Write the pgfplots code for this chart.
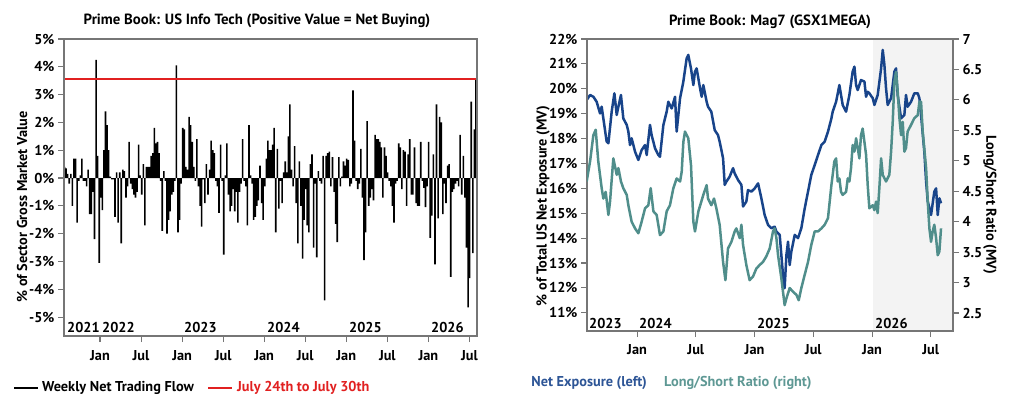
\documentclass[border=0pt]{standalone}
\usepackage{pgfplots}
\pgfplotsset{compat=1.18}
\usepackage{pgfplotstable}
\usepackage{fontspec}
\setmainfont{PT Sans}
\definecolor{expblue}{RGB}{24,68,138}
\definecolor{ratioteal}{RGB}{80,142,139}
\definecolor{legblue}{RGB}{45,85,150}
\definecolor{legteal}{RGB}{94,152,148}
\definecolor{framegray}{RGB}{118,118,118}
\definecolor{flowred}{RGB}{225,32,32}
\definecolor{bandgray}{RGB}{243,243,243}
\newcommand{\lbl}{\bfseries\fontsize{14.3}{16}\selectfont}
\newcommand{\ttl}{\bfseries\fontsize{14.8}{16}\selectfont}

\pgfplotsset{myaxis/.style={scale only axis,
  axis line style={framegray, line width=1.1pt},
  tick style={framegray, line width=1.1pt},
  major tick length=6pt, tick align=outside,
  tick label style={font=\lbl},
  /pgf/number format/assume math mode=true}}

% weekly net flow, % of sector gross MV (first week ~ late Jul 2021)
\pgfplotstableread[header=false,row sep=\\]{
0.4\\0.35\\0.15\\-0.2\\0.15\\-1.0\\0.7\\0.7\\-1.6\\-0.1\\
0.1\\0.7\\-0.1\\-0.1\\-0.3\\0.3\\-1.3\\-1.3\\-0.5\\-2.2\\
4.25\\0.8\\-3.05\\-0.7\\-1.15\\1.0\\2.4\\1.9\\1.0\\0.05\\
-0.05\\-0.05\\-1.4\\0.2\\-1.6\\0.2\\-2.35\\0.3\\0.25\\-0.7\\
-0.3\\1.3\\-0.2\\-0.4\\-0.6\\-0.7\\-0.5\\1.2\\0.1\\-0.6\\
0.5\\-1.7\\0.4\\0.4\\0.4\\0.8\\0.9\\1.8\\1.25\\1.3\\
0.9\\-0.1\\-1.9\\0.25\\-0.1\\-2.0\\-1.5\\-1.2\\-0.6\\-0.5\\
-0.1\\4.05\\-1.95\\-1.5\\-0.2\\1.8\\1.75\\0.4\\0.3\\2.2\\
1.9\\1.3\\0.4\\-0.1\\1.4\\-0.3\\-1.0\\-1.75\\-0.05\\-0.9\\
0.5\\-0.6\\0.3\\1.35\\1.0\\0.9\\-0.1\\-0.3\\-1.25\\1.2\\
-0.1\\-2.75\\0.1\\1.25\\-0.6\\-1.2\\-1.0\\-0.4\\-1.2\\-0.5\\
-1.6\\-0.5\\-0.2\\1.4\\-0.1\\-0.3\\-1.7\\1.9\\0.1\\-0.2\\
-1.5\\-1.4\\-1.0\\-0.8\\0.45\\-0.9\\-1.5\\-0.3\\0.7\\1.35\\
1.0\\1.0\\1.2\\1.8\\-1.95\\1.05\\-1.1\\-0.1\\-0.9\\0.2\\
0.6\\0.2\\1.5\\2.65\\0.3\\-0.3\\1.15\\-0.9\\-2.35\\0.6\\
-1.0\\-2.9\\-1.5\\-0.4\\-1.7\\-1.95\\0.5\\0.85\\-2.5\\-0.2\\
-2.85\\0.25\\-0.1\\-0.2\\0.8\\-4.4\\0.8\\0.9\\0.95\\-0.3\\
0.75\\-0.5\\-1.65\\-2.3\\0.75\\-0.3\\0.05\\0.6\\0.45\\0.7\\
0.65\\-0.3\\-0.2\\3.15\\1.35\\-0.1\\-0.4\\-0.2\\1.05\\-0.7\\
-2.95\\-1.95\\2.05\\-1.0\\-0.7\\-0.4\\-0.8\\1.55\\1.4\\1.4\\
1.3\\1.1\\-0.7\\1.1\\0.8\\0.2\\-0.1\\-0.3\\-1.0\\-1.6\\
-0.2\\-0.1\\1.25\\1.1\\-0.4\\1.0\\0.95\\-1.0\\0.85\\1.4\\
-0.6\\-0.6\\1.1\\-0.9\\-1.0\\-1.0\\1.3\\-0.1\\-0.35\\-1.05\\
-0.3\\1.3\\-2.15\\-1.35\\0.85\\-3.1\\2.65\\-1.45\\2.2\\2.0\\
-1.3\\-0.2\\-0.9\\0.45\\0.5\\-3.55\\-0.5\\-0.4\\-0.2\\-0.1\\
-0.3\\1.55\\-0.6\\0.8\\-0.7\\-2.5\\-4.65\\-3.6\\2.75\\-2.7\\
1.75\\3.55\\
}\flowdata

\begin{document}
\begin{tikzpicture}[x=1pt,y=1pt]
\path[use as bounding box] (0,0) rectangle (1024,402);

% ---------------- Left chart (x = years since 2020) ----------------
\begin{axis}[myaxis, at={(64pt,66pt)}, anchor=south west,
  width=413pt, height=297pt,
  xmin=1.5615, xmax=6.592, ymin=-5.68, ymax=5,
  tick pos=left,
  ytick={-5,-4,...,5},
  yticklabel={\pgfmathprintnumber{\tick}\%},
  xtick={2,2.5,3,3.5,4,4.5,5,5.5,6,6.5},
  xticklabels={Jan,Jul,Jan,Jul,Jan,Jul,Jan,Jul,Jan,Jul},
  xticklabel style={yshift=-5pt},
  axis on top]
\addplot[ybar, bar width=0.0194, bar shift=0pt, fill=black, draw=none]
  table[x expr=1.568+\coordindex*0.0192, y index=0]{\flowdata};
\addplot[flowred, line width=1.8pt] coordinates {(1.5615,3.55) (6.592,3.55)};
\end{axis}
\node[anchor=base west, inner sep=0, font=\lbl] at (67,70) {2021};
\node[anchor=base west, inner sep=0, font=\lbl] at (102,70) {2022};
\node[anchor=base west, inner sep=0, font=\lbl] at (184,70) {2023};
\node[anchor=base west, inner sep=0, font=\lbl] at (267,70) {2024};
\node[anchor=base west, inner sep=0, font=\lbl] at (349,70) {2025};
\node[anchor=base west, inner sep=0, font=\lbl] at (431,70) {2026};
\node[font=\ttl] at (257,381) {Prime Book: US Info Tech (Positive Value = Net Buying)};
\node[rotate=90, font=\lbl] at (22,195) {\% of Sector Gross Market Value};
\draw[black, line width=2.5pt] (14,14) -- (38,14);
\node[anchor=west, inner sep=0, font=\lbl] at (42,14) {Weekly Net Trading Flow};
\draw[flowred, line width=2.5pt] (208,14) -- (232,14);
\node[anchor=west, inner sep=0, font=\lbl, text=flowred] at (237,14) {July 24th to July 30th};

% ---------------- Right chart (x = years since 2020) ----------------
\fill[bandgray] (873,71) rectangle (953,363);
\begin{axis}[myaxis, at={(587pt,71pt)}, anchor=south west,
  width=366pt, height=292pt,
  xmin=3.574, xmax=6.689, ymin=10.27, ymax=22,
  tick pos=left,
  ytick={11,12,...,22},
  yticklabel={\pgfmathprintnumber{\tick}\%},
  xtick={4,4.5,5,5.5,6,6.5},
  xticklabels={Jan,Jul,Jan,Jul,Jan,Jul},
  xticklabel style={yshift=-4pt},
  axis on top]
\addplot[expblue, line width=2.5pt, line join=round] coordinates {
(3.571,19.55) (3.600,19.75) (3.628,19.68) (3.656,19.48) (3.685,19.01) (3.699,19.28) (3.713,18.81) (3.741,17.88) (3.756,17.81) (3.784,19.08) (3.807,19.82) (3.827,18.95) (3.841,19.28) (3.863,19.75) (3.883,18.81) (3.912,18.55) (3.926,18.28) (3.940,17.74) (3.954,18.01) (3.983,17.47) (4.011,17.14) (4.039,17.54) (4.068,17.74) (4.082,17.34) (4.110,18.55) (4.124,18.14) (4.153,17.61) (4.181,17.34) (4.195,17.27) (4.224,18.55) (4.252,19.08) (4.266,19.48) (4.295,19.21) (4.323,19.68) (4.337,18.28) (4.366,19.62) (4.394,20.29) (4.422,21.22) (4.436,21.36) (4.459,20.82) (4.479,20.15) (4.493,20.69) (4.507,20.82) (4.536,20.02) (4.550,19.68) (4.564,20.15) (4.592,19.48) (4.604,19.28) (4.632,19.08) (4.661,18.34) (4.689,18.14) (4.703,17.88) (4.732,17.21) (4.746,16.14) (4.760,16.27) (4.788,16.47) (4.817,16.81) (4.831,16.60) (4.859,16.34) (4.888,16.14) (4.902,15.27) (4.930,15.47) (4.944,15.93) (4.973,15.87) (5.001,16.00) (5.030,16.20) (5.058,15.60) (5.086,14.93) (5.115,14.53) (5.143,14.40) (5.171,14.46) (5.186,14.26) (5.214,14.13) (5.242,12.52) (5.256,11.99) (5.271,13.32) (5.285,13.86) (5.299,12.92) (5.313,13.46) (5.342,14.13) (5.370,14.00) (5.398,14.40) (5.427,15.20) (5.455,15.87) (5.483,16.54) (5.512,16.94) (5.540,17.34) (5.569,17.74) (5.597,17.88) (5.625,18.28) (5.654,18.81) (5.665,19.08) (5.694,19.48) (5.722,20.15) (5.750,19.35) (5.779,19.08) (5.807,19.75) (5.835,20.69) (5.850,20.89) (5.864,20.15) (5.878,19.95) (5.906,20.35) (5.935,20.29) (5.949,19.68) (5.963,19.88) (5.977,19.82) (6.006,19.62) (6.020,19.35) (6.048,19.75) (6.077,20.82) (6.091,21.56) (6.105,20.96) (6.119,20.02) (6.133,19.35) (6.162,19.62) (6.190,20.69) (6.204,20.82) (6.218,19.75) (6.247,18.81) (6.275,18.95) (6.289,19.75) (6.303,19.28) (6.332,19.48) (6.360,19.82) (6.389,19.82) (6.403,19.62) (6.417,18.95) (6.445,17.47) (6.460,16.27) (6.474,15.47) (6.502,14.93) (6.530,15.87) (6.545,16.00) (6.559,14.93) (6.573,15.60) (6.587,15.40)
};
\end{axis}
\begin{axis}[myaxis, at={(587pt,71pt)}, anchor=south west,
  width=366pt, height=292pt,
  xmin=3.574, xmax=6.689, ymin=2.205, ymax=7,
  axis x line=none, axis y line*=right,
  ytick={2.5,3,3.5,4,4.5,5,5.5,6,6.5,7}]
\addplot[ratioteal, line width=2.5pt, line join=round] coordinates {
(3.571,4.66) (3.600,4.99) (3.628,5.42) (3.648,5.51) (3.670,4.99) (3.699,4.55) (3.713,4.38) (3.733,4.49) (3.756,4.11) (3.770,4.33) (3.798,5.04) (3.827,4.77) (3.841,4.88) (3.863,4.66) (3.883,4.55) (3.912,4.44) (3.926,4.27) (3.954,4.00) (3.983,3.89) (4.011,3.81) (4.039,4.00) (4.068,4.22) (4.096,4.27) (4.116,4.55) (4.139,4.17) (4.167,4.11) (4.195,3.78) (4.224,3.84) (4.252,4.17) (4.280,4.27) (4.309,4.55) (4.337,4.71) (4.366,4.66) (4.380,4.82) (4.394,5.31) (4.408,5.48) (4.436,5.37) (4.459,4.93) (4.479,4.00) (4.493,3.84) (4.522,4.17) (4.564,4.44) (4.592,4.60) (4.604,4.38) (4.632,4.27) (4.655,4.38) (4.675,4.22) (4.703,3.95) (4.732,3.34) (4.752,3.04) (4.774,3.56) (4.803,3.67) (4.831,3.84) (4.845,3.89) (4.874,3.73) (4.888,3.95) (4.902,3.62) (4.930,3.29) (4.958,3.04) (4.987,3.10) (5.015,3.23) (5.044,3.29) (5.072,3.34) (5.100,3.43) (5.129,3.56) (5.157,3.84) (5.171,3.89) (5.186,3.73) (5.200,3.45) (5.228,3.07) (5.256,2.63) (5.271,2.74) (5.299,2.91) (5.327,2.85) (5.356,2.80) (5.376,2.71) (5.398,2.91) (5.427,3.13) (5.455,3.34) (5.483,3.62) (5.512,3.84) (5.540,3.84) (5.569,3.89) (5.597,3.95) (5.625,4.06) (5.654,4.60) (5.665,4.77) (5.679,4.99) (5.694,5.04) (5.708,4.66) (5.722,4.71) (5.736,4.49) (5.750,4.44) (5.779,4.49) (5.793,4.71) (5.807,4.66) (5.821,4.88) (5.835,5.26) (5.850,5.15) (5.864,5.37) (5.878,5.21) (5.892,5.04) (5.906,5.42) (5.920,5.53) (5.935,5.31) (5.949,5.10) (5.963,4.60) (5.977,4.22) (6.006,4.27) (6.020,4.19) (6.034,4.33) (6.048,4.14) (6.062,4.55) (6.077,5.04) (6.091,4.77) (6.119,4.66) (6.147,4.77) (6.162,5.15) (6.176,5.64) (6.190,6.30) (6.204,6.46) (6.218,6.14) (6.233,5.70) (6.247,5.42) (6.261,5.64) (6.275,5.15) (6.289,5.21) (6.303,5.48) (6.332,5.59) (6.360,5.70) (6.389,5.75) (6.403,5.97) (6.417,5.97) (6.431,5.48) (6.460,4.88) (6.474,4.33) (6.488,3.89) (6.502,3.67) (6.516,3.84) (6.530,3.95) (6.545,3.73) (6.559,3.45) (6.573,3.51) (6.587,3.89)
};
\end{axis}
\node[anchor=base west, inner sep=0, font=\lbl] at (589,74) {2023};
\node[anchor=base west, inner sep=0, font=\lbl] at (639,74) {2024};
\node[anchor=base west, inner sep=0, font=\lbl] at (757,74) {2025};
\node[anchor=base west, inner sep=0, font=\lbl] at (875,74) {2026};
\node[font=\ttl] at (770,380) {Prime Book: Mag7 (GSX1MEGA)};
\node[rotate=90, font=\lbl] at (543,196) {\% of Total US Net Exposure (MV)};
\node[rotate=-90, font=\lbl] at (990,197) {Long/Short Ratio (MV)};
\node[anchor=east, inner sep=0, font=\lbl, text=legblue] at (647,19) {Net Exposure (left)};
\node[anchor=west, inner sep=0, font=\lbl, text=legteal] at (664,19) {Long/Short Ratio (right)};
\end{tikzpicture}
\end{document}
